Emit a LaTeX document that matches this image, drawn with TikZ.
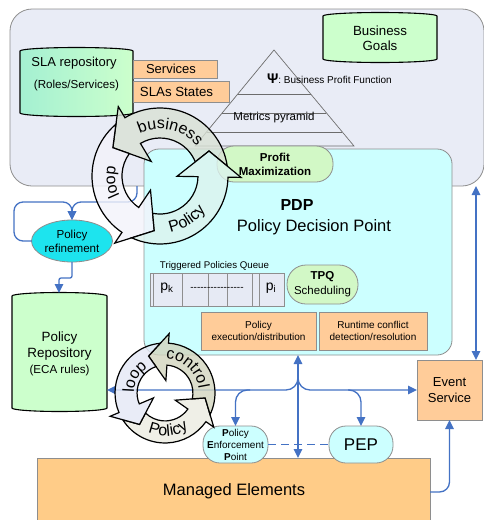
\documentclass[tikz,border=0pt]{standalone}
\usepackage{fontspec}
\setmainfont{Liberation Sans}
\usetikzlibrary{arrows.meta,decorations.text,calc,shapes.geometric}

\definecolor{bizbg}{HTML}{E9ECF6}
\definecolor{bizline}{HTML}{8E8E8E}
\definecolor{peach}{HTML}{FFCC99}
\definecolor{mint}{HTML}{CCFFCC}
\definecolor{softgreen}{HTML}{D2F8C6}
\definecolor{aqua}{HTML}{CCFFFF}
\definecolor{refcyan}{HTML}{1DE4EE}
\definecolor{linkblue}{HTML}{4472C4}
\definecolor{queuebg}{HTML}{E6EAF4}
\definecolor{slaleft}{HTML}{A4F0D2}
\definecolor{meorange}{HTML}{FFCC88}
\definecolor{topbiz}{HTML}{D9E1D5}
\definecolor{toploop}{HTML}{F3F3FA}
\definecolor{toppol}{HTML}{DDF3EE}
\definecolor{botctl}{HTML}{D3D5BE}
\definecolor{botloop}{HTML}{E4E8F5}
\definecolor{botpol}{HTML}{EBECE2}

\newcommand\fsz[2]{\fontsize{#1}{#2}\selectfont}
\newcommand\ringfont{\fsz{16}{16}}

% drum shape drawn round the side box of a node
\newcommand\barrelfrom[2]{%
  \path[#1] let \p1=(#2.north west), \p2=(#2.south east), \n1={(\x2-\x1)/2} in
    (\p1) arc[start angle=180,end angle=0,x radius=\n1,y radius=3.5pt]
    -- (\x2,\y2) arc[start angle=0,end angle=-180,x radius=\n1,y radius=3.5pt] -- cycle;}

% one curved arrow of a three-arrow cycle
% #1 style, #2 centre, #3 scale, #4 head angle of the previous arrow, #5 head angle
\newcommand\cyclearrow[5]{%
  \path[#1, shift={#2}, scale=#3]
    ({#4+9.4}:68) arc[start angle={#4+9.4}, end angle=#5, radius=68]
    -- (#5:81) -- ({#5+28}:55) -- (#5:17) -- (#5:38)
    arc[start angle=#5, end angle={#4+22.8}, radius=38]
    -- ({#4+28}:55) -- cycle;}

% text set along an arc: #1 centre, #2 radius, #3 from, #4 to, #5 text
\newcommand\ringlabel[5]{%
  \path[decorate, decoration={text along path, text align=center, text={|\ringfont|#5}}]
    #1 ++(#3:#2) arc[start angle=#3, end angle=#4, radius=#2];}

\begin{document}
\begin{tikzpicture}[x=1pt,y=1pt,
  every node/.style={inner sep=0pt, outer sep=0pt, align=center},
  grayframe/.style={draw=bizline, line width=0.8pt},
  peachbox/.style={grayframe, fill=peach},
  drum/.style={draw=black, line width=1.1pt},
  link/.style={draw=linkblue, line width=1.3pt, -{Triangle[length=9pt,width=8.5pt]}},
  linkboth/.style={draw=linkblue, line width=1.3pt, {Triangle[length=9pt,width=8.5pt]}-{Triangle[length=9pt,width=8.5pt]}},
  pyr/.style={draw=gray!85!black, line width=0.7pt},
  ringarrow/.style={draw=black, line width=1.2pt, fill opacity=0.8, draw opacity=1}]

\clip (0,0) rectangle (484,-520);
\fill[white] (0,0) rectangle (484,-520);

% business layer
\node[grayframe, fill=bizbg, rounded corners=22, minimum width=474, minimum height=177] (biz) at (247,-97.5) {};

% metrics pyramid
\coordinate (apex) at (274,-50);
\coordinate (pbl) at (195,-146);
\coordinate (pbr) at (354,-146);
\draw[pyr] (apex) -- (pbr) -- (pbl) -- cycle;
\foreach \t in {0.458,0.656,0.854}
  \draw[pyr] ($(apex)!\t!(pbl)$) -- ($(apex)!\t!(pbr)$);
\node[anchor=west] (psi) at (267,-79) {\fsz{14}{14}\textbf{Ψ}\fsz{10}{10}: Business Profit Function};
\node[font=\fsz{11.5}{12}] (metrics) at (274,-118) {Metrics pyramid};

% business goals
\node[minimum width=114, minimum height=43] (goals) at (380,-37.5) {};
\barrelfrom{drum, fill=mint}{goals}
\node[font=\fsz{13.3}{15}] (goalstext) at (380,-38.5) {Business\\Goals};

% SLA repository
\node[minimum width=113, minimum height=62] (sla) at (76.5,-82) {};
\barrelfrom{drum, left color=slaleft, right color=mint}{sla}
\node[font=\fsz{13}{13}] (slatitle) at (74,-63) {SLA repository};
\node[font=\fsz{11.6}{12}] (slaroles) at (76.5,-85) {(Roles/Services)};
\node[peachbox, minimum width=84, minimum height=18.5, anchor=north west, font=\fsz{13}{13}] (services) at (133,-60) {Services\hspace{8pt}};
\node[peachbox, minimum width=96, minimum height=21, anchor=north west, font=\fsz{13.3}{13}] (slastates) at (133,-81) {SLAs States\hspace{9pt}};

% policy decision point
\node[grayframe, fill=aqua, rounded corners=15, minimum width=308, minimum height=206, anchor=north west] (pdp) at (144,-149) {};
\node[grayframe, fill=softgreen, rounded corners=17, minimum width=116, minimum height=36, anchor=north west, font=\fsz{11.5}{14}\bfseries] (profit) at (217,-146) {Profit\\Maximization};
\node[font=\fsz{16}{16}\bfseries] (pdptitle) at (297,-205) {PDP};
\node[font=\fsz{16.5}{17}] (pdpname) at (314,-227) {Policy Decision Point};

\node[font=\fsz{9.7}{10}] (tpqlabel) at (214.5,-266) {Triggered Policies Queue};
\node[grayframe, fill=queuebg, minimum width=134, minimum height=33, anchor=north west] (queue) at (150,-273) {};
\foreach \x in {153,182,208,227,252,259} {
  \coordinate (qx) at (\x,0);
  \draw[grayframe] (queue.north -| qx) -- (queue.south -| qx);
}
\node[font=\fsz{14}{14}] (pk) at (167,-288) {p\textsubscript{k}};
\node[font=\fsz{10}{10}] (pdots) at (217,-289) {\foreach \i in {1,...,16}{-}};
\node[font=\fsz{14}{14}] (pi) at (271,-288) {p\textsubscript{i}};

\node[grayframe, fill=softgreen, rounded corners=19, minimum width=71, minimum height=39, anchor=north west, font=\fsz{11.5}{15}] (tpq) at (287,-265) {\textbf{TPQ}\\Scheduling};
\node[peachbox, minimum width=115, minimum height=38, anchor=north west, font=\fsz{10}{12}] (exec) at (201,-312) {Policy\\execution/distribution};
\node[peachbox, minimum width=108, minimum height=38, anchor=north west, font=\fsz{10}{12}] (conflict) at (319,-312) {Runtime conflict\\detection/resolution};

% refinement and repository
\node[ellipse, draw=bizline, line width=0.8pt, fill=refcyan, minimum width=81, minimum height=42, font=\fsz{11.6}{14}] (refine) at (72,-241) {Policy\\refinement};
\node[minimum width=95, minimum height=112] (repo) at (59.5,-352) {};
\barrelfrom{drum, fill=mint}{repo}
\node[font=\fsz{13.4}{16.5}] (repotext) at (59.5,-346) {Policy\\Repository};
\node[font=\fsz{11.6}{12}] (ecatext) at (59.5,-370) {(ECA rules)};

% event service, managed elements, enforcement points
\node[peachbox, minimum width=65, minimum height=60, anchor=north west, font=\fsz{13}{16}] (event) at (417,-360) {Event\\Service};
\node[grayframe, fill=meorange, minimum width=393, minimum height=80, anchor=north west] (me) at (37,-458) {};
\node[font=\fsz{16.5}{17}] (metext) at (234,-491) {Managed Elements};
\node[grayframe, fill=aqua, rounded corners=17, minimum width=65, minimum height=37, anchor=north west, font=\fsz{10}{12}] (pep) at (203,-426) {\textbf{P}olicy\\\textbf{E}nforcement\\\textbf{P}oint};
\node[grayframe, fill=aqua, rounded corners=17, minimum width=64, minimum height=37, anchor=north west, font=\fsz{17}{17}] (pep2) at (329,-426) {PEP};

% connectors
\coordinate (tapx) at (137,0);
\coordinate (reftap) at (biz.south -| tapx);
\coordinate (refjoin) at (72,-202);
\coordinate (refleft) at (14,-202);
\draw[link, rounded corners=9] (reftap) |- (refjoin) -- (refine.north);
\draw[link, rounded corners=9] (refine.west) -| (refleft) -| (refine.north);
\coordinate (repoin) at (59,-278);
\coordinate (repotop) at (59,-293);
\draw[link, rounded corners=2] (refine.south) |- (repoin) -- (repotop);

\coordinate (trunk) at (298,0);
\draw[linkboth] (pdp.south -| trunk) -- (me.north -| trunk);
\coordinate (split) at (298,-374);
\coordinate (busy) at (0,-390);
\draw[link, rounded corners=12] (split) |- (repo.east |- busy);
\draw[link, rounded corners=12] (split) |- (event.west |- busy);
\coordinate (pepfork) at (250,-390);
\coordinate (pep2fork) at (348,-390);
\draw[link, rounded corners=12] (pepfork) -| (pep.north);
\draw[link, rounded corners=12] (pep2fork) -| (pep2.north);
\draw[draw=linkblue, line width=1.2pt, dash pattern=on 8pt off 5pt] (pep.east) -- (pep2.west);
\coordinate (mey) at (0,-492);
\draw[link, rounded corners=10] (me.east |- mey) -| (event.south);
\coordinate (sidex) at (476,0);
\draw[linkboth] (biz.south -| sidex) -- (event.north -| sidex);

% business / policy loop
\cyclearrow{ringarrow, fill=topbiz}{(160,-176)}{1}{-1}{121}
\cyclearrow{ringarrow, fill=toploop}{(160,-176)}{1}{121}{236}
\cyclearrow{ringarrow, fill=toppol}{(160,-176)}{1}{236}{359}
\ringlabel{(160,-176)}{47}{137}{17}{business}
\ringlabel{(160,-176)}{45}{237}{137}{loop}
\ringlabel{(160,-176)}{57}{252}{352}{Policy}

% policy control loop
\cyclearrow{ringarrow, fill=botpol}{(165,-393)}{0.735}{203}{325}
\cyclearrow{ringarrow, fill=botctl}{(165,-393)}{0.735}{-35}{86}
\cyclearrow{ringarrow, fill=botloop}{(165,-393)}{0.735}{86}{203}
\ringlabel{(165,-393)}{34}{98}{-2}{control}
\ringlabel{(165,-393)}{31}{202}{102}{loop}
\ringlabel{(165,-393)}{43}{215}{335}{Policy}
\end{tikzpicture}
\end{document}
